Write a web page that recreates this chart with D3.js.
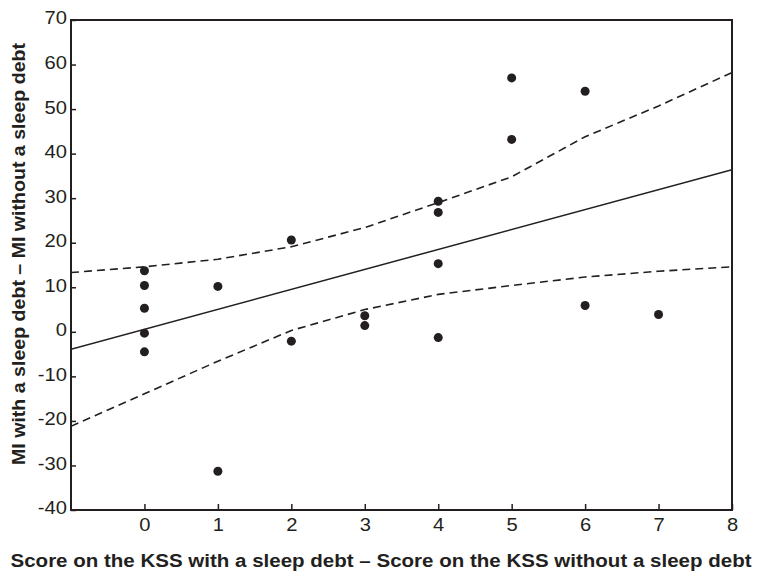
<!DOCTYPE html>
<html>
<head>
<meta charset="utf-8">
<script src="https://cdn.jsdelivr.net/npm/d3@7"></script>
<style>
  html, body { margin: 0; padding: 0; background: #fff; }
  svg { display: block; }
</style>
</head>
<body>
<svg id="chart" width="763" height="577"></svg>
<script>
// ---- data ----
const kssDiff = [0, 0, 0, 0, 0, 1, 1, 2, 2, 3, 3, 4, 4, 4, 4, 5, 5, 6, 6, 7];
const miDiff  = [13.7, 10.4, 5.3, -0.3, -4.5, 10.2, -31.3, 20.6, -2.1, 3.6, 1.4, 29.3, 26.8, 15.3, -1.3, 57.0, 43.2, 54.0, 5.9, 3.9];

const fitX = [-1, 8];
const fitY = [-3.9, 36.4];

const ciX     = [-1, 0, 1, 2, 3, 4, 5, 6, 7, 8];
const ciUpper = [13.3, 14.6, 16.3, 19.1, 23.4, 29.0, 34.8, 43.8, 50.7, 58.2];
const ciLower = [-21.2, -13.9, -6.6, 0.3, 5.0, 8.4, 10.4, 12.3, 13.6, 14.6];

const xTicks = [0, 1, 2, 3, 4, 5, 6, 7, 8];
const yTicks = [-40, -30, -20, -10, 0, 10, 20, 30, 40, 50, 60, 70];

const xTitle = "Score on the KSS with a sleep debt \u2013 Score on the KSS without a sleep debt";
const yTitle = "MI with a sleep debt \u2013 MI without a sleep debt";

// ---- layout ----
const ink = "#231f20";
const mLeft = 71, mRight = 732, mTop = 20, mBottom = 510;
const stretch = 1.12;

const svg = d3.select("#chart");
const x = d3.scaleLinear().domain([-1, 8]).range([mLeft, mRight]);
const y = d3.scaleLinear().domain([-40, 70]).range([mBottom, mTop]);

svg.append("defs").append("clipPath").attr("id", "clip")
  .append("rect").attr("x", mLeft).attr("y", mTop).attr("width", mRight - mLeft).attr("height", mBottom - mTop);

const plot = svg.append("g");
const lineGen = d3.line().x(d => x(d[0])).y(d => y(d[1]));

const lines = plot.append("g").attr("clip-path", "url(#clip)");
lines.append("path")
  .attr("d", lineGen(ciX.map((v, i) => [v, ciUpper[i]])))
  .attr("fill", "none").attr("stroke", ink).attr("stroke-width", 1.6)
  .attr("stroke-dasharray", "8,5");
lines.append("path")
  .attr("d", lineGen(ciX.map((v, i) => [v, ciLower[i]])))
  .attr("fill", "none").attr("stroke", ink).attr("stroke-width", 1.6)
  .attr("stroke-dasharray", "8,5");
lines.append("path")
  .attr("d", lineGen(fitX.map((v, i) => [v, fitY[i]])))
  .attr("fill", "none").attr("stroke", ink).attr("stroke-width", 1.5);

plot.append("g").selectAll("circle")
  .data(kssDiff.map((v, i) => [v, miDiff[i]]))
  .join("circle")
  .attr("cx", d => x(d[0])).attr("cy", d => y(d[1]))
  .attr("r", 4.5).attr("fill", ink);

const fmt = d => String(d);
const xAxis = d3.axisBottom(x).tickValues(xTicks).tickFormat(fmt).tickSizeInner(-6).tickSizeOuter(0).tickPadding(8);
const yAxis = d3.axisLeft(y).tickValues(yTicks).tickFormat(fmt).tickSizeInner(-5).tickSizeOuter(0).tickPadding(4);

const gx = svg.append("g").attr("transform", `translate(0,${mBottom})`).call(xAxis);
const gy = svg.append("g").attr("transform", `translate(${mLeft},0)`).call(yAxis);
[gx, gy].forEach(g => {
  g.select(".domain").remove();
  g.selectAll(".tick line").attr("stroke", ink).attr("stroke-width", 1.5);
  g.selectAll(".tick text").attr("fill", ink)
    .style("font-family", "'Liberation Sans', Arial, sans-serif").style("font-size", "18px");
});
gx.selectAll(".tick text").attr("transform", `scale(${stretch},1)`);
gy.selectAll(".tick text")
  .attr("x", -4 / stretch)
  .attr("dy", "0.22em")
  .attr("transform", `scale(${stretch},1)`);

svg.append("rect")
  .attr("x", mLeft).attr("y", mTop).attr("width", mRight - mLeft).attr("height", mBottom - mTop)
  .attr("fill", "none").attr("stroke", ink).attr("stroke-width", 2);

svg.append("text")
  .attr("x", 381).attr("y", 567)
  .attr("text-anchor", "middle")
  .attr("textLength", 741).attr("lengthAdjust", "spacingAndGlyphs")
  .attr("fill", ink)
  .style("font-family", "'Liberation Sans', Arial, sans-serif")
  .style("font-size", "18px").style("font-weight", "bold")
  .text(xTitle);

svg.append("text")
  .attr("transform", "translate(25,254) rotate(-90)")
  .attr("text-anchor", "middle")
  .attr("textLength", 422).attr("lengthAdjust", "spacingAndGlyphs")
  .attr("fill", ink)
  .style("font-family", "'Liberation Sans', Arial, sans-serif")
  .style("font-size", "18px").style("font-weight", "bold")
  .text(yTitle);
</script>
</body>
</html>
